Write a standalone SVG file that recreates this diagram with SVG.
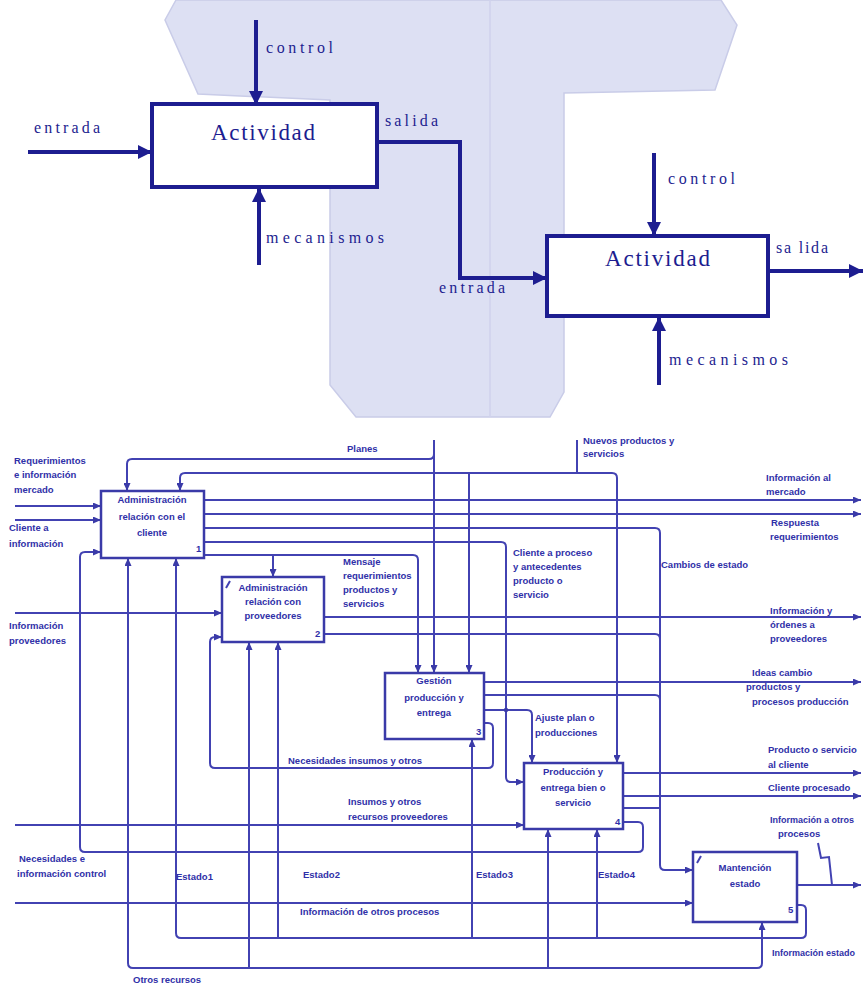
<svg xmlns="http://www.w3.org/2000/svg" width="863" height="984" viewBox="0 0 863 984">
<style>
.bg{fill:#dde0f3;stroke:#c9cce8;stroke-width:1.5}
.tb{fill:#fff;stroke:#1d1d90;stroke-width:4}
.tl{fill:none;stroke:#1d1d90;stroke-width:4}
.tt{font-family:"Liberation Serif",serif;font-size:16px;fill:#1d1d90}
.ta{font-family:"Liberation Serif",serif;font-size:23px;fill:#1d1d90}
.bx{fill:#fff;stroke:#3a3aa8;stroke-width:2.5}
.c{fill:none;stroke:#4242b2;stroke-width:2}
.s{font-family:"Liberation Sans",Arial,sans-serif;font-size:9.5px;font-weight:bold;fill:#3030a8}
.m{text-anchor:middle}
</style>
<defs>
<marker id="A" viewBox="0 0 14 14" refX="14" refY="7" markerWidth="14" markerHeight="14" orient="auto" markerUnits="userSpaceOnUse"><path d="M0,0 L14,7 L0,14 z" fill="#1d1d90"/></marker>
<marker id="a" viewBox="0 0 8 7" refX="8" refY="3.5" markerWidth="8" markerHeight="7" orient="auto" markerUnits="userSpaceOnUse"><path d="M0,0 L8,3.5 L0,7 z" fill="#3a3aa8"/></marker>
</defs>
<rect width="863" height="984" fill="#fff"/>

<!-- background T shape -->
<path class="bg" d="M176,0 L165,20 L198,94 L330,100 L330,385 L356,417 L550,417 L564,392 L564,93 L715,90 L737,25 L721,0 Z"/>
<line x1="490" y1="0" x2="490" y2="417" stroke="#cfd2ec" stroke-width="1.5"/>

<!-- top IDEF0 example -->
<g id="top-connectors">
<path class="tl" d="M28,152 H152" marker-end="url(#A)"/>
<path class="tl" d="M256,20 V105" marker-end="url(#A)"/>
<path class="tl" d="M259,265 V188" marker-end="url(#A)"/>
<path class="tl" d="M378,142 H460 V278 H547" marker-end="url(#A)"/>
<path class="tl" d="M654,153 V236" marker-end="url(#A)"/>
<path class="tl" d="M659,385 V317" marker-end="url(#A)"/>
<path class="tl" d="M768,271 H863" marker-end="url(#A)"/>
</g>
<g id="actividad1">
<rect class="tb" x="152" y="104" width="225" height="83"/>
<text class="ta" x="211" y="140" textLength="104" lengthAdjust="spacing">Actividad</text>
</g>
<g id="actividad2">
<rect class="tb" x="547" y="236" width="221" height="80"/>
<text class="ta" x="605" y="266" textLength="105" lengthAdjust="spacing">Actividad</text>
</g>
<g id="top-labels">
<text class="tt" x="34" y="133" textLength="66" lengthAdjust="spacing">entrada</text>
<text class="tt" x="266" y="53" textLength="67" lengthAdjust="spacing">control</text>
<text class="tt" x="385" y="126" textLength="53" lengthAdjust="spacing">salida</text>
<text class="tt" x="266" y="243" textLength="118" lengthAdjust="spacing">mecanismos</text>
<text class="tt" x="439" y="293" textLength="66" lengthAdjust="spacing">entrada</text>
<text class="tt" x="668" y="184" textLength="67" lengthAdjust="spacing">control</text>
<text class="tt" x="776" y="253" textLength="52" lengthAdjust="spacing">sa lida</text>
<text class="tt" x="669" y="365" textLength="119" lengthAdjust="spacing">mecanismos</text>
</g>

<!-- bottom diagram connectors -->
<g id="connectors">
<path class="c" d="M15,506 H101" marker-end="url(#a)"/>
<path class="c" d="M15,520 H101" marker-end="url(#a)"/>
<path class="c" d="M623,822 H638 Q643,822 643,827 V847 Q643,852 638,852 H85 Q80,852 80,847 V557 Q80,552 85,552 H101" marker-end="url(#a)"/>
<path class="c" d="M434,440 V673" marker-end="url(#a)"/>
<path class="c" d="M434,454 Q434,459 429,459 H132 Q127,459 127,464 V491" marker-end="url(#a)"/>
<path class="c" d="M577,473 V440"/>
<path class="c" d="M300,473 H185 Q180,473 180,478 V491" marker-end="url(#a)"/>
<path class="c" d="M300,473 H612 Q617,473 617,478 V763" marker-end="url(#a)"/>
<path class="c" d="M469,473 V673" marker-end="url(#a)"/>
<path class="c" d="M204,500 H861" marker-end="url(#a)"/>
<path class="c" d="M204,514 H861" marker-end="url(#a)"/>
<path class="c" d="M204,528 H655 Q660,528 660,533 V865 Q660,870 665,870 H693" marker-end="url(#a)"/>
<path class="c" d="M204,542 H501 Q506,542 506,547 V777 Q506,782 511,782 H524" marker-end="url(#a)"/>
<path class="c" d="M204,555 H413 Q418,555 418,560 V673" marker-end="url(#a)"/>
<path class="c" d="M273,555 V577" marker-end="url(#a)"/>
<path class="c" d="M15,613 H222" marker-end="url(#a)"/>
<path class="c" d="M324,617 H861" marker-end="url(#a)"/>
<path class="c" d="M324,634 H655 Q660,634 660,639"/>
<path class="c" d="M484,682 H861" marker-end="url(#a)"/>
<path class="c" d="M484,695 H655 Q660,695 660,700"/>
<path class="c" d="M484,710 H527 Q532,710 532,715 V763" marker-end="url(#a)"/>
<circle cx="506" cy="710" r="2.2" fill="#3a3aa8"/>
<path class="c" d="M484,723 H488 Q493,723 493,728 V763 Q493,768 488,768 H215 Q210,768 210,763 V642 Q210,637 215,637 H222" marker-end="url(#a)"/>
<path class="c" d="M15,825 H524" marker-end="url(#a)"/>
<path class="c" d="M623,773 H861" marker-end="url(#a)"/>
<path class="c" d="M623,796 H861" marker-end="url(#a)"/>
<path class="c" d="M623,808 H660"/>
<path class="c" d="M797,885 H861" marker-end="url(#a)"/>
<path class="c" d="M818,843 L821,858 L829,857 L832,885"/>
<path class="c" d="M15,903 H693" marker-end="url(#a)"/>
<path class="c" d="M797,905 H801 Q806,905 806,910 V933 Q806,938 801,938 H181 Q176,938 176,933 V558" marker-end="url(#a)"/>
<path class="c" d="M278,938 V642" marker-end="url(#a)"/>
<path class="c" d="M472,938 V739" marker-end="url(#a)"/>
<path class="c" d="M597,938 V829" marker-end="url(#a)"/>
<path class="c" d="M300,968 H757 Q762,968 762,963 V922" marker-end="url(#a)"/>
<path class="c" d="M300,968 H133 Q128,968 128,963 V558" marker-end="url(#a)"/>
<path class="c" d="M249,968 V642" marker-end="url(#a)"/>
<path class="c" d="M548,968 V829" marker-end="url(#a)"/>
</g>

<!-- nodes -->
<g id="n1">
<rect class="bx" x="101" y="491" width="103" height="67"/>
<text class="s m" x="152" y="503">Administración</text>
<text class="s m" x="152" y="520">relación con el</text>
<text class="s m" x="152" y="536">cliente</text>
<text class="s" x="196" y="552">1</text>
</g>
<g id="n2">
<rect class="bx" x="222" y="577" width="102" height="65"/>
<path class="c" d="M226,588 L230,581"/>
<text class="s m" x="273" y="591">Administración</text>
<text class="s m" x="273" y="605">relación con</text>
<text class="s m" x="273" y="619">proveedores</text>
<text class="s" x="315" y="637">2</text>
</g>
<g id="n3">
<rect class="bx" x="385" y="673" width="99" height="66"/>
<text class="s m" x="434" y="684">Gestión</text>
<text class="s m" x="434" y="701">producción y</text>
<text class="s m" x="434" y="716">entrega</text>
<text class="s" x="476" y="735">3</text>
</g>
<g id="n4">
<rect class="bx" x="524" y="763" width="99" height="66"/>
<text class="s m" x="573" y="775">Producción y</text>
<text class="s m" x="573" y="791">entrega bien o</text>
<text class="s m" x="573" y="806">servicio</text>
<text class="s" x="615" y="825">4</text>
</g>
<g id="n5">
<rect class="bx" x="693" y="852" width="104" height="70"/>
<path class="c" d="M697,863 L701,856"/>
<text class="s m" x="745" y="871">Mantención</text>
<text class="s m" x="745" y="887">estado</text>
<text class="s" x="788" y="913">5</text>
</g>

<!-- labels -->
<g id="labels">
<text class="s" x="347" y="452">Planes</text>
<text class="s" x="583" y="444">Nuevos productos y</text>
<text class="s" x="583" y="457">servicios</text>
<text class="s" x="14" y="464">Requerimientos</text>
<text class="s" x="14" y="478">e información</text>
<text class="s" x="14" y="493">mercado</text>
<text class="s" x="9" y="531">Cliente a</text>
<text class="s" x="9" y="547">información</text>
<text class="s" x="766" y="481">Información al</text>
<text class="s" x="766" y="495">mercado</text>
<text class="s" x="771" y="526">Respuesta</text>
<text class="s" x="770" y="540">requerimientos</text>
<text class="s" x="513" y="556">Cliente a proceso</text>
<text class="s" x="513" y="570">y antecedentes</text>
<text class="s" x="513" y="584">producto o</text>
<text class="s" x="513" y="598">servicio</text>
<text class="s" x="661" y="568">Cambios de estado</text>
<text class="s" x="343" y="565">Mensaje</text>
<text class="s" x="343" y="579">requerimientos</text>
<text class="s" x="343" y="593">productos y</text>
<text class="s" x="343" y="607">servicios</text>
<text class="s" x="9" y="629">Información</text>
<text class="s" x="9" y="644">proveedores</text>
<text class="s" x="770" y="614">Información y</text>
<text class="s" x="770" y="628">órdenes a</text>
<text class="s" x="770" y="642">proveedores</text>
<text class="s" x="752" y="676">Ideas cambio</text>
<text class="s" x="746" y="690">productos y</text>
<text class="s" x="752" y="705">procesos producción</text>
<text class="s" x="535" y="721">Ajuste plan o</text>
<text class="s" x="535" y="736">producciones</text>
<text class="s" x="288" y="764">Necesidades insumos y otros</text>
<text class="s" x="348" y="805">Insumos y otros</text>
<text class="s" x="348" y="820">recursos proveedores</text>
<text class="s" x="768" y="753">Producto o servicio</text>
<text class="s" x="768" y="768">al cliente</text>
<text class="s" x="768" y="791">Cliente procesado</text>
<text class="s" x="770" y="823" style="font-size:9px">Información a otros</text>
<text class="s" x="778" y="837">procesos</text>
<text class="s" x="19" y="862">Necesidades e</text>
<text class="s" x="17" y="877">información control</text>
<text class="s" x="176" y="880">Estado1</text>
<text class="s" x="303" y="878">Estado2</text>
<text class="s" x="476" y="878">Estado3</text>
<text class="s" x="598" y="878">Estado4</text>
<text class="s" x="300" y="915">Información de otros procesos</text>
<text class="s" x="772" y="956" style="font-size:9px">Información estado</text>
<text class="s" x="133" y="983">Otros recursos</text>
</g>
</svg>
